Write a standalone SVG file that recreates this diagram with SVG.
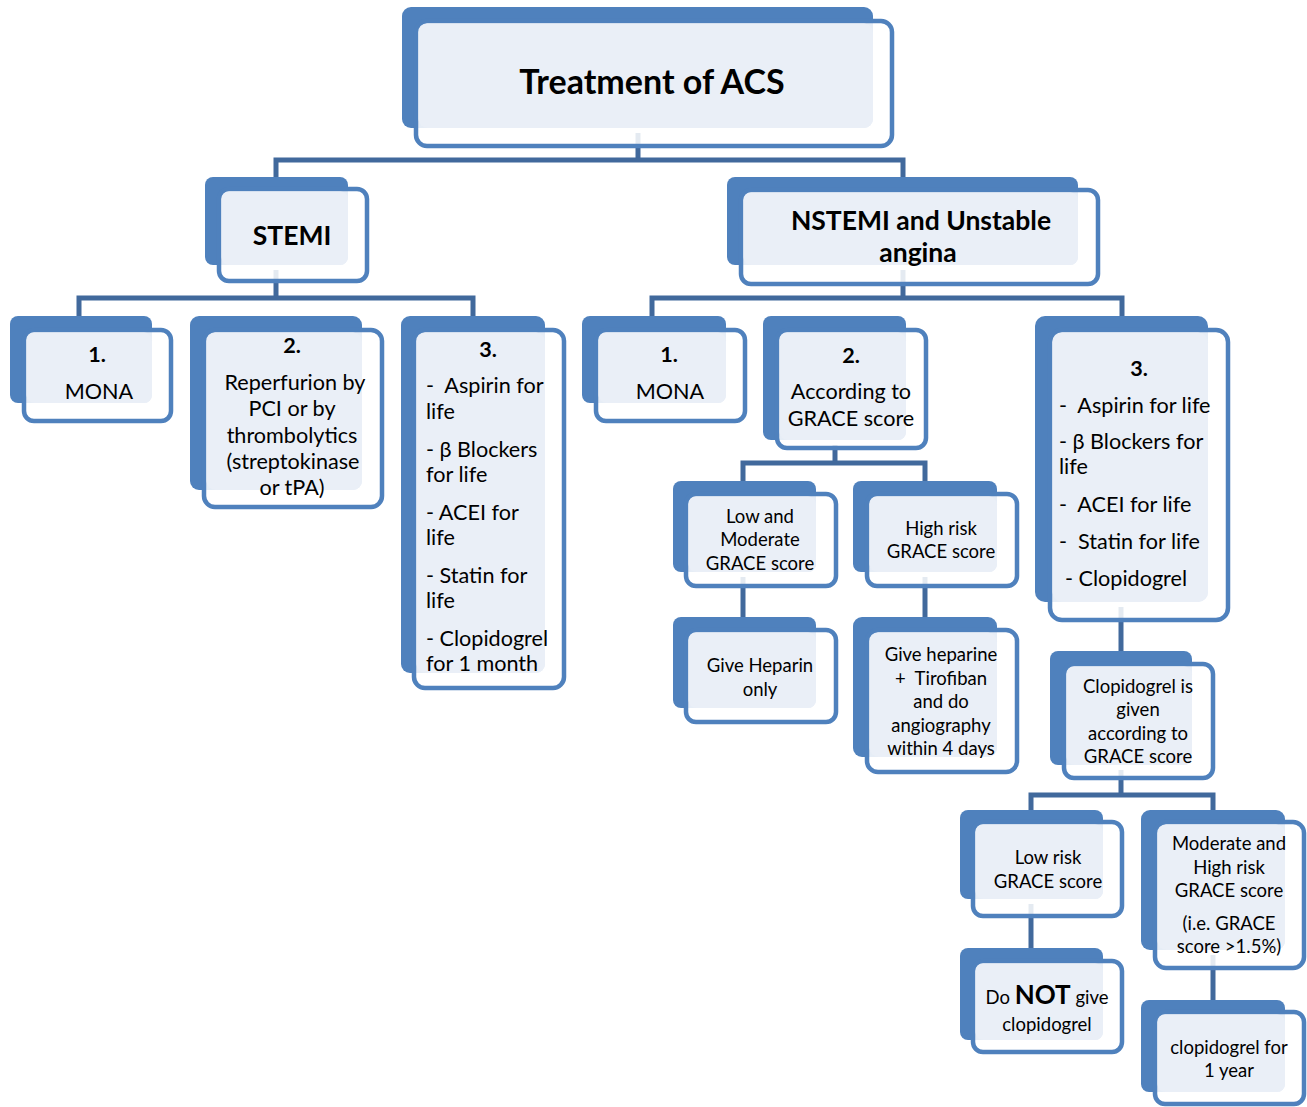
<svg xmlns="http://www.w3.org/2000/svg" width="1307" height="1107" viewBox="0 0 1307 1107">
<style>
.bk{fill:#4F81BD}
.fr{fill:#FFFFFF;fill-opacity:.86;stroke:#4F81BD;stroke-width:4.5}
.lt{fill:#EAEFF7}
.cn{fill:none;stroke:#41699C;stroke-width:5;stroke-linejoin:miter}
text{font-family:Lato,"Liberation Sans",sans-serif;fill:#000;white-space:pre}
.t{font-size:21.6px}
.s{font-size:18.5px}
.m{text-anchor:middle}
.b{font-weight:bold}
.h{font-size:26.5px;font-weight:bold}
</style>
<rect width="1307" height="1107" fill="#FFFFFF"/>
<g id="connectors">
<path class="cn" d="M638 133V160"/>
<path class="cn" d="M276 177V160H903V177"/>
<path class="cn" d="M276 270V298"/>
<path class="cn" d="M79 316V298H473V316"/>
<path class="cn" d="M903 270V298"/>
<path class="cn" d="M652 316V298H1122V316"/>
<path class="cn" d="M835 445V463"/>
<path class="cn" d="M743 481V463H925V481"/>
<path class="cn" d="M743 577V617"/>
<path class="cn" d="M925 577V617"/>
<path class="cn" d="M1121 607V651"/>
<path class="cn" d="M1121 770V795"/>
<path class="cn" d="M1031 810V795H1213V810"/>
<path class="cn" d="M1031 904V948"/>
<path class="cn" d="M1213 955V1000"/>
</g>
<g id="title">
<rect class="bk" x="402" y="7" width="471" height="121" rx="9"/>
<rect class="fr" x="416" y="21" width="476" height="125" rx="11"/>
<rect class="lt" x="418.5" y="23.5" width="454.5" height="104.5" rx="9"/>
<text class="m b" x="652" y="94" font-size="34">Treatment of ACS</text>
</g>
<g id="stemi">
<rect class="bk" x="205" y="177" width="143" height="88" rx="8"/>
<rect class="fr" x="219" y="189" width="148" height="92" rx="10"/>
<rect class="lt" x="221.5" y="191.5" width="126.5" height="73.5" rx="8"/>
<text class="m h" x="292" y="245">STEMI</text>
</g>
<g id="nstemi">
<rect class="bk" x="727" y="177" width="351" height="88" rx="8"/>
<rect class="fr" x="741" y="190" width="357" height="94" rx="10"/>
<rect class="lt" x="743.5" y="192.5" width="334.5" height="72.5" rx="8"/>
<text class="m h" x="921" y="230">NSTEMI and Unstable</text>
<text class="m h" x="918" y="262">angina</text>
</g>
<g id="stemi-1">
<rect class="bk" x="10" y="316" width="142" height="87" rx="8"/>
<rect class="fr" x="24" y="330" width="147" height="91" rx="10"/>
<rect class="lt" x="26.5" y="332.5" width="125.5" height="70.5" rx="8"/>
<text class="t m b" x="97" y="362">1.</text>
<text class="t m" x="99" y="399">MONA</text>
</g>
<g id="stemi-2">
<rect class="bk" x="190" y="316" width="172" height="174" rx="9"/>
<rect class="fr" x="204" y="330" width="178" height="177" rx="11"/>
<rect class="lt" x="206.5" y="332.5" width="155.5" height="157.5" rx="9"/>
<text class="t m b" x="292" y="353">2.</text>
<text class="t m" x="295" y="390">Reperfurion by</text>
<text class="t m" x="292" y="416">PCI or by</text>
<text class="t m" x="292" y="443">thrombolytics</text>
<text class="t m" x="293" y="469">(streptokinase</text>
<text class="t m" x="292" y="495">or tPA)</text>
</g>
<g id="stemi-3">
<rect class="bk" x="401" y="316" width="144" height="357" rx="9"/>
<rect class="fr" x="414" y="330" width="150" height="358" rx="11"/>
<rect class="lt" x="416.5" y="332.5" width="128.5" height="340.5" rx="9"/>
<text class="t m b" x="488" y="357">3.</text>
<text class="t" x="426" y="393" xml:space="preserve">-  Aspirin for</text>
<text class="t" x="426" y="419">life</text>
<text class="t" x="426" y="457">- β Blockers</text>
<text class="t" x="426" y="482">for life</text>
<text class="t" x="426" y="520">- ACEI for</text>
<text class="t" x="426" y="545">life</text>
<text class="t" x="426" y="583">- Statin for</text>
<text class="t" x="426" y="608">life</text>
<text class="t" x="426" y="646">- Clopidogrel</text>
<text class="t" x="426" y="671">for 1 month</text>
</g>
<g id="nstemi-1">
<rect class="bk" x="582" y="316" width="144" height="87" rx="8"/>
<rect class="fr" x="596" y="330" width="149" height="91" rx="10"/>
<rect class="lt" x="598.5" y="332.5" width="127.5" height="70.5" rx="8"/>
<text class="t m b" x="669" y="362">1.</text>
<text class="t m" x="670" y="399">MONA</text>
</g>
<g id="nstemi-2">
<rect class="bk" x="763" y="316" width="143" height="124" rx="8"/>
<rect class="fr" x="777" y="330" width="149" height="118" rx="10"/>
<rect class="lt" x="779.5" y="332.5" width="126.5" height="107.5" rx="8"/>
<text class="t m b" x="851" y="363">2.</text>
<text class="t m" x="851" y="399">According to</text>
<text class="t m" x="851" y="426">GRACE score</text>
</g>
<g id="nstemi-3">
<rect class="bk" x="1035" y="316" width="173" height="286" rx="10"/>
<rect class="fr" x="1050" y="330" width="178" height="290" rx="12"/>
<rect class="lt" x="1052.5" y="332.5" width="155.5" height="269.5" rx="10"/>
<text class="t m b" x="1139" y="376">3.</text>
<text class="t" x="1059" y="413" xml:space="preserve">-  Aspirin for life</text>
<text class="t" x="1059" y="449">- β Blockers for</text>
<text class="t" x="1059" y="474">life</text>
<text class="t" x="1059" y="512" xml:space="preserve">-  ACEI for life</text>
<text class="t" x="1059" y="549" xml:space="preserve">-  Statin for life</text>
<text class="t" x="1065" y="586">- Clopidogrel</text>
</g>
<g id="low-moderate">
<rect class="bk" x="673" y="481" width="143" height="91" rx="8"/>
<rect class="fr" x="686" y="494" width="150" height="92" rx="10"/>
<rect class="lt" x="688.5" y="496.5" width="127.5" height="75.5" rx="8"/>
<text class="s m" x="760" y="523">Low and</text>
<text class="s m" x="760" y="546">Moderate</text>
<text class="s m" x="760" y="570">GRACE score</text>
</g>
<g id="high-risk">
<rect class="bk" x="853" y="481" width="144" height="91" rx="8"/>
<rect class="fr" x="867" y="494" width="150" height="92" rx="10"/>
<rect class="lt" x="869.5" y="496.5" width="127.5" height="75.5" rx="8"/>
<text class="s m" x="941" y="535">High risk</text>
<text class="s m" x="941" y="558">GRACE score</text>
</g>
<g id="heparin">
<rect class="bk" x="673" y="617" width="143" height="91" rx="8"/>
<rect class="fr" x="686" y="630" width="150" height="92" rx="10"/>
<rect class="lt" x="688.5" y="632.5" width="127.5" height="75.5" rx="8"/>
<text class="s m" x="760" y="672">Give Heparin</text>
<text class="s m" x="760" y="696">only</text>
</g>
<g id="heparine-tirofiban">
<rect class="bk" x="853" y="617" width="144" height="140" rx="9"/>
<rect class="fr" x="867" y="630" width="150" height="142" rx="11"/>
<rect class="lt" x="869.5" y="632.5" width="127.5" height="124.5" rx="9"/>
<text class="s m" x="941" y="661">Give heparine</text>
<text class="s m" x="941" y="685" xml:space="preserve">+  Tirofiban</text>
<text class="s m" x="941" y="708">and do</text>
<text class="s m" x="941" y="732">angiography</text>
<text class="s m" x="941" y="755">within 4 days</text>
</g>
<g id="clopidogrel-given">
<rect class="bk" x="1050" y="651" width="142" height="114" rx="8"/>
<rect class="fr" x="1064" y="664" width="149" height="114" rx="10"/>
<rect class="lt" x="1066.5" y="666.5" width="125.5" height="98.5" rx="8"/>
<text class="s m" x="1138" y="693">Clopidogrel is</text>
<text class="s m" x="1138" y="716">given</text>
<text class="s m" x="1138" y="740">according to</text>
<text class="s m" x="1138" y="763">GRACE score</text>
</g>
<g id="low-risk">
<rect class="bk" x="960" y="810" width="143" height="89" rx="8"/>
<rect class="fr" x="973" y="822" width="149" height="94" rx="10"/>
<rect class="lt" x="975.5" y="824.5" width="127.5" height="74.5" rx="8"/>
<text class="s m" x="1048" y="864">Low risk</text>
<text class="s m" x="1048" y="888">GRACE score</text>
</g>
<g id="do-not">
<rect class="bk" x="960" y="948" width="143" height="92" rx="8"/>
<rect class="fr" x="973" y="961" width="149" height="91" rx="10"/>
<rect class="lt" x="975.5" y="963.5" width="127.5" height="76.5" rx="8"/>
<text class="s m" x="1047" y="1004">Do <tspan class="b" font-size="26">NOT</tspan> give</text>
<text class="s m" x="1047" y="1031">clopidogrel</text>
</g>
<g id="moderate-high">
<rect class="bk" x="1141" y="810" width="144" height="140" rx="9"/>
<rect class="fr" x="1155" y="822" width="149" height="146" rx="11"/>
<rect class="lt" x="1157.5" y="824.5" width="127.5" height="125.5" rx="9"/>
<text class="s m" x="1229" y="850">Moderate and</text>
<text class="s m" x="1229" y="874">High risk</text>
<text class="s m" x="1229" y="897">GRACE score</text>
<text class="s m" x="1229" y="930">(i.e. GRACE</text>
<text class="s m" x="1229" y="953">score &gt;1.5%)</text>
</g>
<g id="clopidogrel-year">
<rect class="bk" x="1141" y="1000" width="144" height="92" rx="8"/>
<rect class="fr" x="1155" y="1012" width="149" height="92" rx="10"/>
<rect class="lt" x="1157.5" y="1014.5" width="127.5" height="77.5" rx="8"/>
<text class="s m" x="1229" y="1054">clopidogrel for</text>
<text class="s m" x="1229" y="1077">1 year</text>
</g>
</svg>
